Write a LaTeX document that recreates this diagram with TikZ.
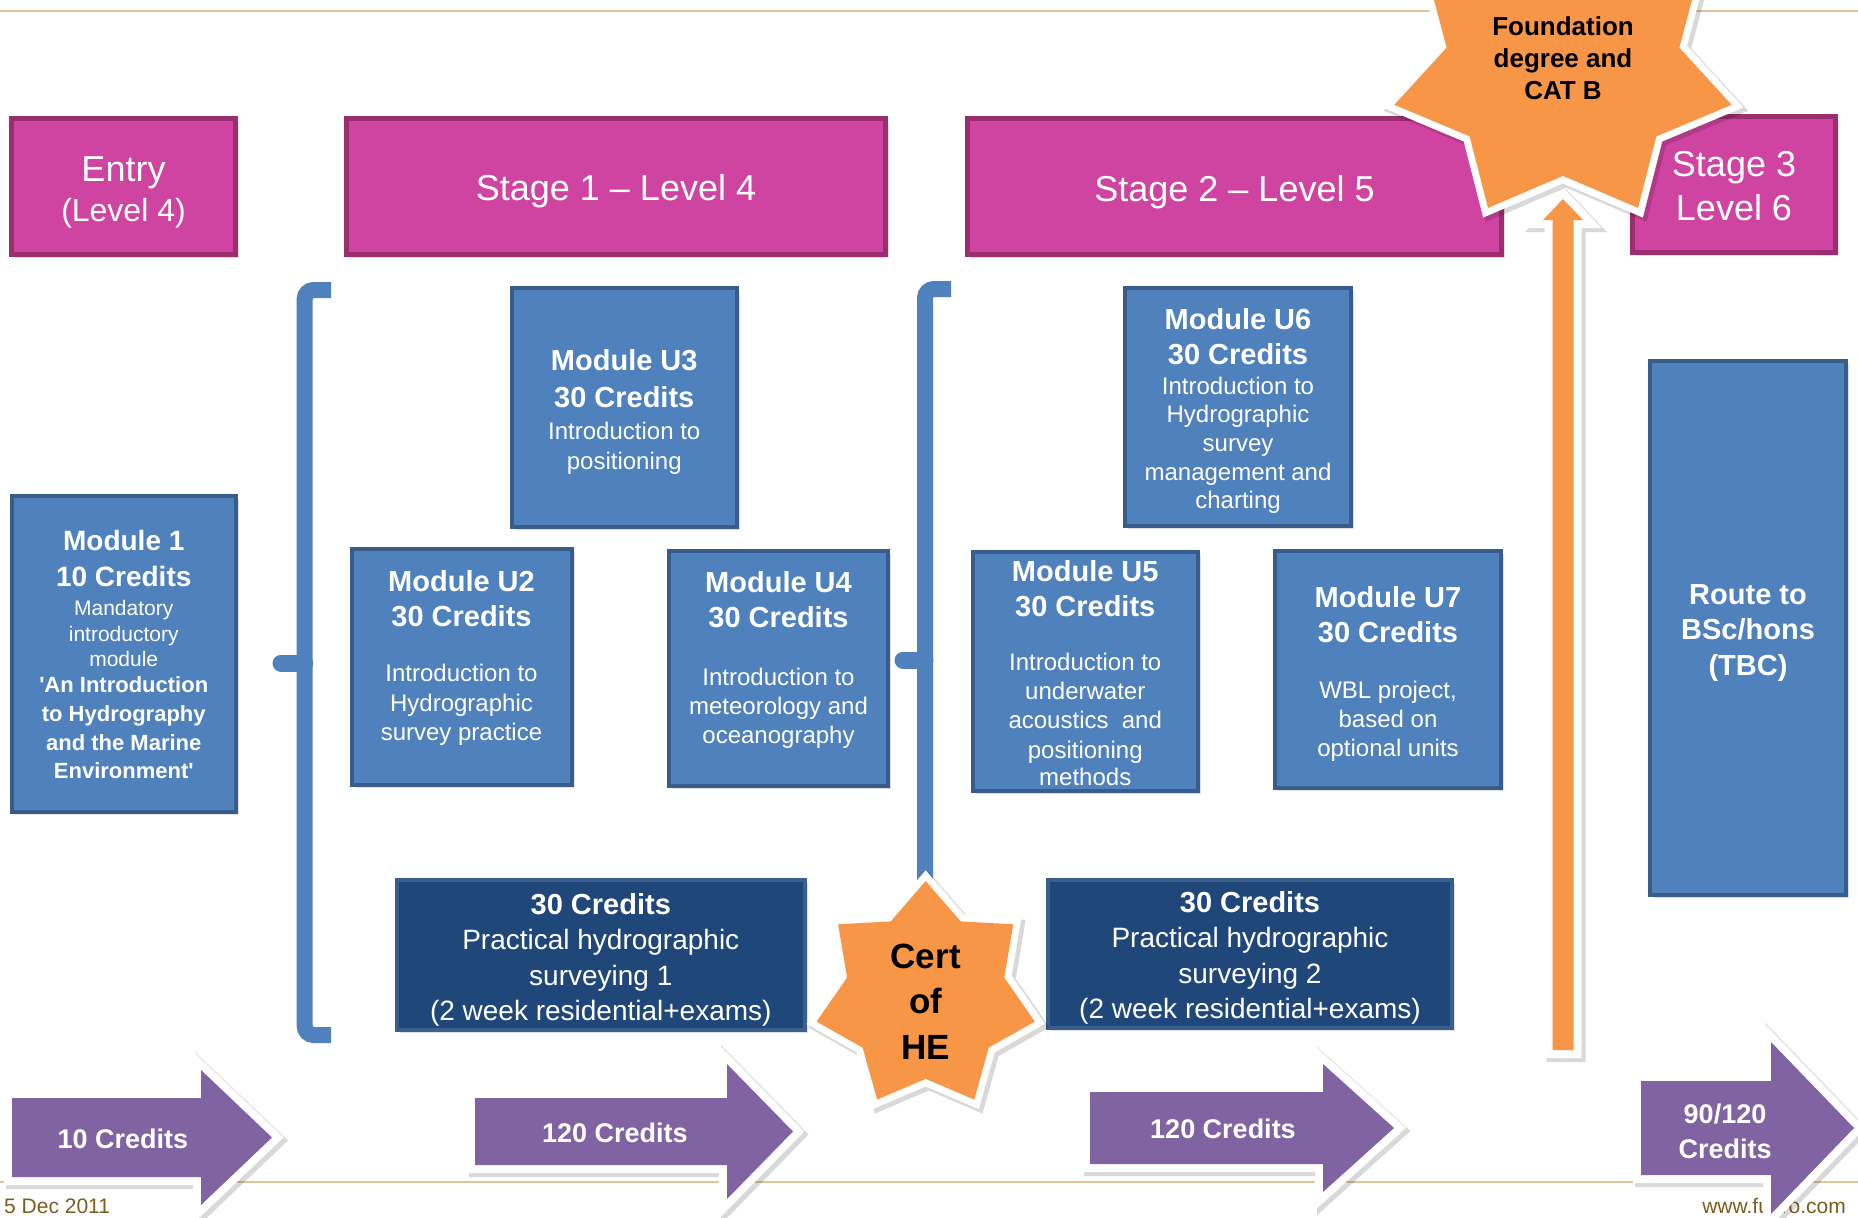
\documentclass[tikz,border=0pt]{standalone}
\usepackage{fontspec}
\setmainfont{Liberation Sans}[Ligatures=TeXOff]
\usetikzlibrary{shadows}
\definecolor{pinkfill}{HTML}{CF44A0}
\definecolor{pinkdraw}{HTML}{9B2E6E}
\definecolor{modfill}{HTML}{4F81BD}
\definecolor{moddraw}{HTML}{385D8A}
\definecolor{darkfill}{HTML}{1F4779}
\definecolor{darkdraw}{HTML}{3A5F8E}
\definecolor{orangefill}{HTML}{F79646}
\definecolor{purplefill}{HTML}{8064A2}
\definecolor{goldline}{HTML}{DCC598}
\definecolor{footbrown}{HTML}{7E5C1E}
\newcommand\ttl[2]{{\fontsize{#1}{#1}\selectfont\bfseries #2}}
% cx cy rx ry ratio style
\newcommand\sevenstar[6]{%
  \path[#6] plot[samples at={0,...,13}]
    ({#1+#3*(1-(1-#5)*mod(\x,2))*cos(90+\x*180/7)},
     {#2-#4*(1-(1-#5)*mod(\x,2))*sin(90+\x*180/7)}) -- cycle;}
% fill colour, polygon
\newcommand\wbpoly[2]{\path[wbarrow] #2; \path[fill=#1] #2;}
\begin{document}
\begin{tikzpicture}[x=1pt,y=-1pt,
  hdr/.style={draw=pinkdraw, fill=pinkfill, line width=5pt, inner sep=0pt,
    drop shadow={shadow xshift=3pt,shadow yshift=-3pt,opacity=0.25}},
  modbox/.style={draw=moddraw, fill=modfill, line width=4pt, inner sep=0pt,
    drop shadow={shadow xshift=3pt,shadow yshift=-3pt,opacity=0.25}},
  darkbox/.style={draw=darkdraw, fill=darkfill, line width=4pt, inner sep=0pt,
    drop shadow={shadow xshift=3pt,shadow yshift=-3pt,opacity=0.25}},
  wtxt/.style={text=white, align=center, inner sep=0pt},
  btxt/.style={text=black, align=center, inner sep=0pt},
  brk/.style={draw=modfill, line width=16pt, rounded corners=9pt},
  nub/.style={draw=modfill, line width=17pt, line cap=round},
  wbarrow/.style={draw=white, fill=white, line width=16pt,
    preaction={draw=black, fill=black, opacity=0.15, line width=18pt,
      transform canvas={xshift=3pt,yshift=-3pt}}},
  wbstar/.style={draw=white, fill=white, line width=14pt,
    preaction={draw=black, fill=black, opacity=0.15, line width=16pt,
      transform canvas={xshift=3pt,yshift=-3pt}}},
]
\useasboundingbox (0,0) rectangle (1858,1218);
\fill[white] (0,0) rectangle (1858,1218);

% rules and footer
\coordinate (tl) at (0,11); \coordinate (tr) at (1858,11);
\coordinate (bl) at (0,1182); \coordinate (br) at (1858,1182);
\draw[goldline, line width=2pt] (tl) -- (tr);
\draw[goldline, line width=2pt] (bl) -- (br);
\node[anchor=base west, inner sep=0pt, text=footbrown, font=\fontsize{21}{21}\selectfont] (date) at (4,1213) {5 Dec 2011};
\node[anchor=base east, inner sep=0pt, text=footbrown, font=\fontsize{21}{21}\selectfont] (web) at (1846,1213) {www.fugro.com};

% headers
\node[hdr, minimum width=224pt, minimum height=136pt] (entry) at (123.5,186.5) {};
\node[hdr, minimum width=539pt, minimum height=136pt] (st1) at (616,186.5) {};
\node[hdr, minimum width=534pt, minimum height=136pt] (st2) at (1234.5,186.5) {};
\node[hdr, minimum width=203pt, minimum height=136pt] (st3) at (1734,184.5) {};
\node[wtxt, font=\fontsize{32}{40}\selectfont] (entryt) at (123.5,192.4) {{\fontsize{36}{40}\selectfont Entry}\\(Level 4)};
\node[wtxt, font=\fontsize{36}{43.5}\selectfont] (st1t) at (616,191.4) {Stage 1 – Level 4};
\node[wtxt, font=\fontsize{36}{43.5}\selectfont] (st2t) at (1234.5,192.4) {Stage 2 – Level 5};
\node[wtxt, font=\fontsize{36}{43.5}\selectfont] (st3t) at (1734,186.3) {Stage 3\\Level 6};

% brackets
\draw[brk] (331,290) -- (304.7,290) -- (304.7,1035) -- (331,1035);
\draw[nub] (304.7,663) -- (281,663);
\draw[brk] (951,289) -- (925,289) -- (925,886);
\draw[nub] (925,660) -- (903,660);

% module boxes
\node[modbox, minimum width=224.5pt, minimum height=316pt] (m1) at (123.75,654) {};
\node[modbox, minimum width=225.5pt, minimum height=239pt] (u3) at (624.25,407) {};
\node[modbox, minimum width=220pt, minimum height=236pt] (u2) at (461.5,667) {};
\node[modbox, minimum width=219pt, minimum height=235pt] (u4) at (778.5,668.5) {};
\node[modbox, minimum width=226pt, minimum height=238.5pt] (u6) at (1238,407.2) {};
\node[modbox, minimum width=225.5pt, minimum height=239pt] (u5) at (1085.25,671.5) {};
\node[modbox, minimum width=226pt, minimum height=237pt] (u7) at (1388,669.5) {};
\node[modbox, minimum width=196pt, minimum height=534.5pt] (route) at (1748,627.75) {};
\node[darkbox, minimum width=408pt, minimum height=150pt] (p1) at (600.8,955) {};
\node[darkbox, minimum width=404pt, minimum height=148pt] (p2) at (1250,954) {};

\node[wtxt, font=\fontsize{21}{25}\selectfont] (m1t) at (123.75,654.8)
  {\ttl{28}{Module 1}\\[11pt]\ttl{28}{10 Credits}\\[3.5pt]Mandatory\\[1pt]introductory\\module\\[1.5pt]\ttl{22}{'An Introduction}\\[4pt]\ttl{22}{to Hydrography}\\[4pt]\ttl{22}{and the Marine}\\[3pt]\ttl{22}{Environment'}};
\node[wtxt, font=\fontsize{24}{29}\selectfont] (u3t) at (624.25,412)
  {\ttl{29}{Module U3}\\[8pt]\ttl{29}{30 Credits}\\[2.5pt]Introduction to\\[1pt]positioning};
\node[wtxt, font=\fontsize{24}{29}\selectfont] (u6t) at (1238,410.8)
  {\ttl{29}{Module U6}\\[6pt]\ttl{29}{30 Credits}\\[1.5pt]Introduction to\\[-1pt]Hydrographic\\survey\\management and\\[-1pt]charting};
\node[wtxt, font=\fontsize{24}{29}\selectfont] (u2t) at (461.5,658)
  {\ttl{29}{Module U2}\\[6pt]\ttl{29}{30 Credits}\\[25.5pt]Introduction to\\[1pt]Hydrographic\\survey practice};
\node[wtxt, font=\fontsize{24}{29}\selectfont] (u4t) at (778.5,659.8)
  {\ttl{29}{Module U4}\\[6pt]\ttl{29}{30 Credits}\\[29.5pt]Introduction to\\meteorology and\\oceanography};
\node[wtxt, font=\fontsize{24}{29}\selectfont] (u5t) at (1085.25,673)
  {\ttl{29}{Module U5}\\[6pt]\ttl{29}{30 Credits}\\[25.5pt]Introduction to\\underwater\\acoustics\ \ and\\[1pt]positioning\\[-2pt]methods};
\node[wtxt, font=\fontsize{24}{29}\selectfont] (u7t) at (1388,674.2)
  {\ttl{29}{Module U7}\\[6pt]\ttl{29}{30 Credits}\\[26.5pt]WBL project,\\based on\\optional units};
\node[wtxt, font=\fontsize{29}{35.5}\selectfont\bfseries] (routet) at (1748,633) {Route to\\BSc/hons\\(TBC)};
\node[wtxt, font=\fontsize{28}{35.5}\selectfont] (p1t) at (600.8,960)
  {\ttl{29}{30 Credits}\\Practical hydrographic\\surveying 1\\(2 week residential+exams)};
\node[wtxt, font=\fontsize{28}{35.5}\selectfont] (p2t) at (1250,958)
  {\ttl{29}{30 Credits}\\Practical hydrographic\\surveying 2\\(2 week residential+exams)};

% orange vertical arrow
\wbpoly{orangefill}{(1552.5,1050) -- (1552.5,220) -- (1543,220) -- (1563,199) -- (1583,220) -- (1573.5,220) -- (1573.5,1050) -- cycle}

% stars
\sevenstar{1563}{71}{173}{152}{0.69}{wbstar}
\sevenstar{1563}{71}{173}{152}{0.69}{fill=orangefill}
\node[btxt, font=\fontsize{26}{32}\selectfont\bfseries] (found) at (1563,58.5) {Foundation\\degree and\\CAT B};
\sevenstar{925.7}{996}{112}{115}{0.72}{wbstar}
\sevenstar{925.7}{996}{112}{115}{0.72}{fill=orangefill}
\node[btxt, font=\fontsize{35}{45.5}\selectfont\bfseries] (cert) at (925.7,1001.7) {Cert\\of\\HE};

% purple credit arrows
\wbpoly{purplefill}{(12,1098) -- (201,1098) -- (201,1070) -- (272,1137.5) -- (201,1205) -- (201,1177) -- (12,1177) -- cycle}
\wbpoly{purplefill}{(475,1098) -- (727,1098) -- (727,1064) -- (793,1131.5) -- (727,1199) -- (727,1165) -- (475,1165) -- cycle}
\wbpoly{purplefill}{(1090,1092) -- (1323,1092) -- (1323,1064) -- (1394,1128) -- (1323,1192) -- (1323,1164) -- (1090,1164) -- cycle}
\wbpoly{purplefill}{(1641,1081) -- (1771,1081) -- (1771,1042) -- (1854,1128) -- (1771,1214) -- (1771,1175) -- (1641,1175) -- cycle}
\node[wtxt, font=\fontsize{27}{35}\selectfont\bfseries] (a1t) at (123,1138.6) {10 Credits};
\node[wtxt, font=\fontsize{27}{35}\selectfont\bfseries] (a2t) at (615,1133) {120 Credits};
\node[wtxt, font=\fontsize{27}{35}\selectfont\bfseries] (a3t) at (1223,1129) {120 Credits};
\node[wtxt, font=\fontsize{27}{35}\selectfont\bfseries] (a4t) at (1725,1131) {90/120\\Credits};
\end{tikzpicture}
\end{document}
